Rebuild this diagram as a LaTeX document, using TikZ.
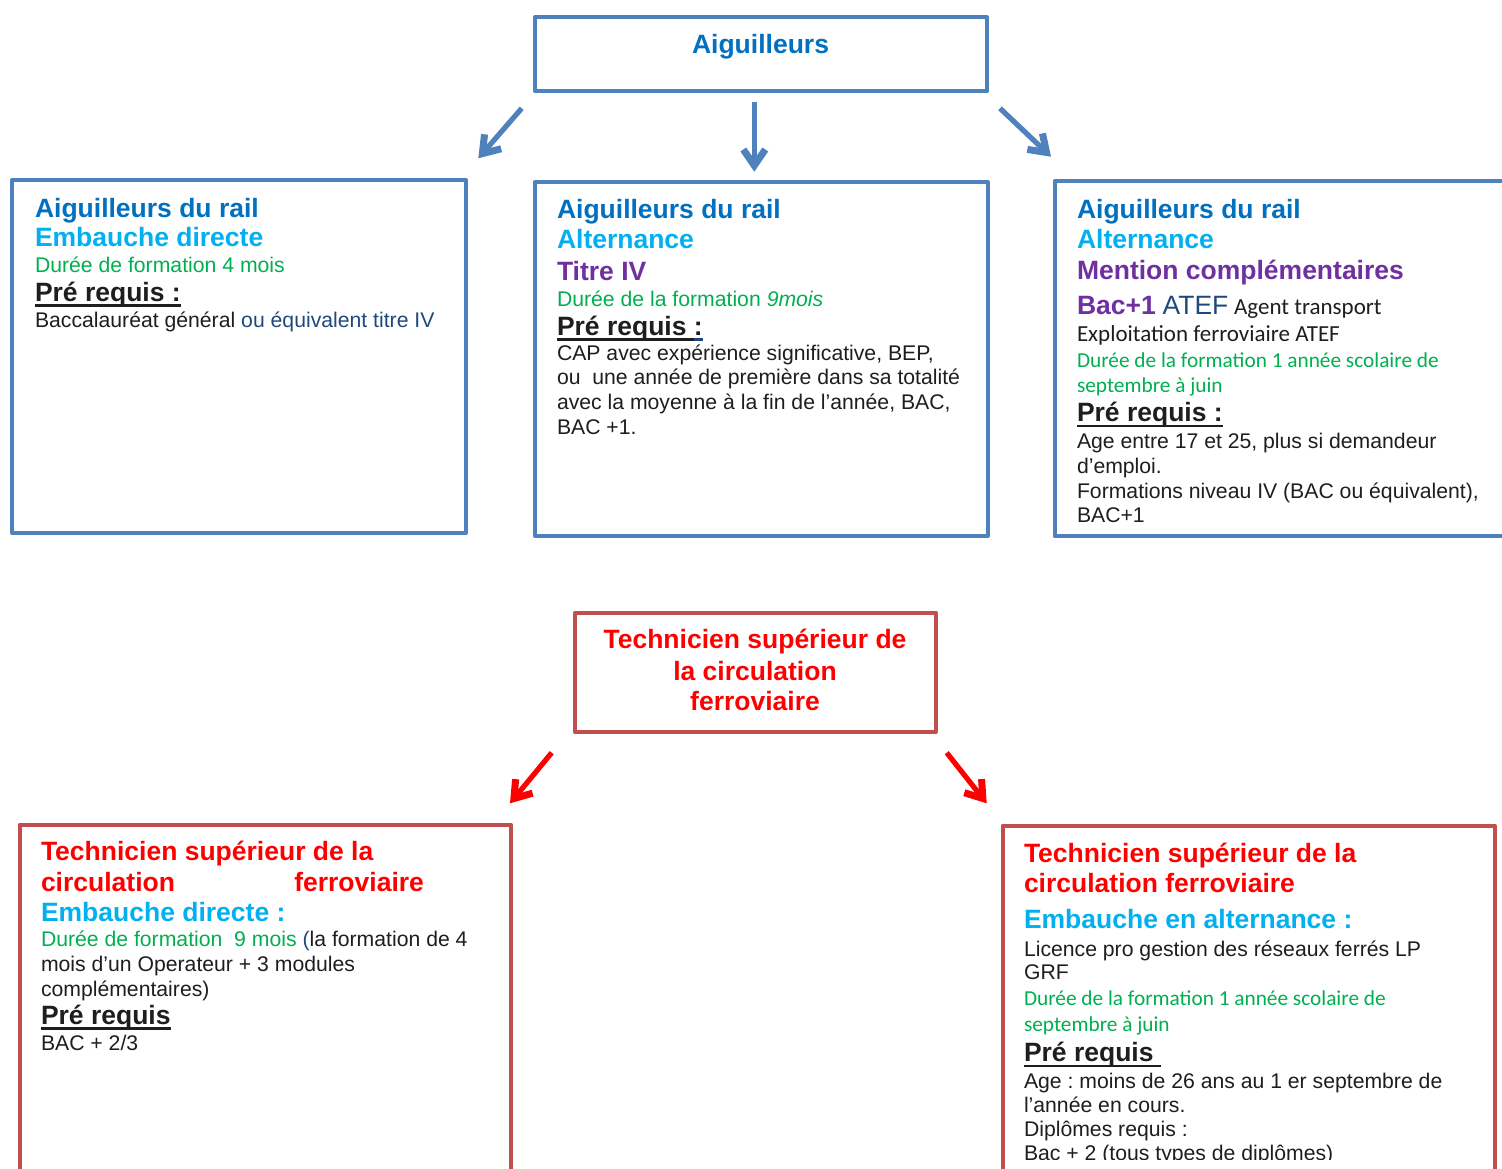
\documentclass[tikz,border=0pt]{standalone}
\usepackage{fontspec}
\setmainfont{Liberation Sans}
\newfontfamily\calfont{Carlito}
\usetikzlibrary{arrows.meta}
\definecolor{boxblue}{HTML}{4F81BD}
\definecolor{boxred}{HTML}{C0504D}
\definecolor{ttlblue}{HTML}{0070C0}
\definecolor{ltblue}{HTML}{00B0F0}
\definecolor{grn}{HTML}{00B050}
\definecolor{purp}{HTML}{7030A0}
\definecolor{dkblue}{HTML}{1F497D}
\definecolor{txt}{HTML}{1E1E1E}
\definecolor{arrred}{HTML}{FF0000}
\newcommand\fT{\fontsize{26.5pt}{30pt}\selectfont\bfseries}
\newcommand\fTr{\fontsize{26.5pt}{30pt}\selectfont}
\newcommand\fB{\fontsize{21.2pt}{24.5pt}\selectfont}
\newcommand\fC{\fontsize{21.3pt}{26pt}\selectfont\calfont}
\newcommand\fCb{\fontsize{23pt}{27pt}\selectfont\calfont}
\newcommand\myul[2][txt]{\setbox0\hbox{#2}\rlap{\color{#1}\rule[-5.6pt]{\wd0}{2.8pt}}\box0}
\frenchspacing
\begin{document}
\begin{tikzpicture}[x=1pt,y=-1pt,
  bbox/.style={draw=boxblue, line width=4pt, rectangle, line join=round, inner sep=0pt, outer sep=0pt},
  rbox/.style={draw=boxred, line width=4pt, rectangle, line join=round, inner sep=0pt, outer sep=0pt},
  ln/.style={anchor=base west, inner sep=0pt, outer sep=0pt, text=txt},
  cn/.style={anchor=base, inner sep=0pt, outer sep=0pt},
  barr/.style={boxblue, line width=5.2pt, -{Straight Barb[length=16pt,width=22pt,line width=0pt 1.35]}},
  rarr/.style={arrred, line width=5.2pt, -{Straight Barb[length=16pt,width=22pt,line width=0pt 1.35]}}]
\useasboundingbox (0,0) rectangle (1502,1168);
\fill[white] (0,0) rectangle (1502,1168);

% boxes
\node[bbox, minimum width=452pt, minimum height=74pt] (top) at (761,54) {};
\node[bbox, minimum width=454pt, minimum height=353pt] (b1) at (239,356.5) {};
\node[bbox, minimum width=452.5pt, minimum height=354pt] (b2) at (761.25,359) {};
\node[bbox, minimum width=465.5pt, minimum height=355pt] (b3) at (1287.25,358.5) {};
\node[rbox, minimum width=360.5pt, minimum height=119.5pt] (rc) at (755.25,672.25) {};
\node[rbox, minimum width=491pt, minimum height=365.5pt] (b4) at (265,1007.25) {};
\node[rbox, minimum width=492pt, minimum height=364.5pt] (b5) at (1248.5,1007.75) {};

% arrows
\coordinate (a1s) at (521.7,108.3); \coordinate (a1e) at (478.3,158.3);
\coordinate (a2s) at (754.3,101.7); \coordinate (a2e) at (754.3,171.7);
\coordinate (a3s) at (1000,108.3); \coordinate (a3e) at (1051,156.7);
\coordinate (r1s) at (551.7,752.7); \coordinate (r1e) at (510,803.3);
\coordinate (r2s) at (946.7,752.7); \coordinate (r2e) at (986.7,803.3);
\draw[barr] (a1s) -- (a1e);
\draw[barr] (a2s) -- (a2e);
\draw[barr] (a3s) -- (a3e);
\draw[rarr] (r1s) -- (r1e);
\draw[rarr] (r2s) -- (r2e);

% top text
\node[cn, text=ttlblue, font=\fT] (ttop) at (760.5,53) {Aiguilleurs};

% box 1
\node[ln, text=ttlblue, font=\fT] (b1a) at (35,217.5) {Aiguilleurs du rail};
\node[ln, text=ltblue, font=\fT] (b1b) at (35,246) {Embauche directe};
\node[ln, text=grn, font=\fB] (b1c) at (35,272) {Durée de formation 4 mois};
\node[ln, font=\fT] (b1d) at (35,301) {\myul{Pré requis :}};
\node[ln, font=\fB] (b1e) at (35,327) {Baccalauréat général {\color{dkblue}ou équivalent titre IV}};

% box 2
\node[ln, text=ttlblue, font=\fT] (b2a) at (557,218) {Aiguilleurs du rail};
\node[ln, text=ltblue, font=\fT] (b2b) at (557,248.5) {Alternance};
\node[ln, text=purp, font=\fT] (b2c) at (557,280) {Titre IV};
\node[ln, text=grn, font=\fB] (b2d) at (557,306) {Durée de la formation \textit{9mois}};
\node[ln, font=\fT] (b2e) at (557,335) {\myul{Pré requis }\myul[dkblue]{:}};
\node[ln, font=\fB] (b2f) at (557,360) {CAP avec expérience significative, BEP,};
\node[ln, font=\fB] (b2g) at (557,384.5) {ou\ \ une année de première dans sa totalité};
\node[ln, font=\fB] (b2h) at (557,409) {avec la moyenne à la fin de l’année, BAC,};
\node[ln, font=\fB] (b2i) at (557,434) {BAC +1.};

% box 3
\node[ln, text=ttlblue, font=\fT] (b3a) at (1077,218.3) {Aiguilleurs du rail};
\node[ln, text=ltblue, font=\fT] (b3b) at (1077,248.3) {Alternance};
\node[ln, text=purp, font=\fT] (b3c) at (1077,279) {Mention complémentaires};
\node[ln] (b3d) at (1077,314.3) {{\fT\color{purp}Bac+1}\hspace{4pt} {\fTr\color{dkblue}ATEF}\hspace{3pt} {\fCb Agent transport}};
\node[ln, font=\fCb] (b3e) at (1077,341.7) {Exploitation ferroviaire ATEF};
\node[ln, text=grn, font=\fC] (b3f) at (1077,367.3) {Durée de la formation 1 année scolaire de};
\node[ln, text=grn, font=\fC] (b3g) at (1077,392.7) {septembre à juin};
\node[ln, font=\fT] (b3h) at (1077,421.7) {\myul{Pré requis :}};
\node[ln, font=\fB] (b3i) at (1077,448.3) {Age entre 17 et 25, plus si demandeur};
\node[ln, font=\fB] (b3j) at (1077,473.3) {d’emploi.};
\node[ln, font=\fB] (b3k) at (1077,498.3) {Formations niveau IV (BAC ou équivalent),};
\node[ln, font=\fB] (b3l) at (1077,522.3) {BAC+1};

% red centre box
\node[cn, text=arrred, font=\fT] (rc1) at (755,648.3) {Technicien supérieur de};
\node[cn, text=arrred, font=\fT] (rc2) at (755,680) {la circulation};
\node[cn, text=arrred, font=\fT] (rc3) at (755,710) {ferroviaire};

% box 4
\node[ln, text=arrred, font=\fT] (b4a) at (41,860) {Technicien supérieur de la};
\node[ln, text=arrred, font=\fT] (b4b) at (41,891) {circulation};
\node[ln, text=arrred, font=\fT] (b4c) at (294.3,891) {ferroviaire};
\node[ln, text=ltblue, font=\fT] (b4d) at (41,921) {Embauche directe :};
\node[ln, font=\fB] (b4e) at (41,946.7) {{\color{grn}Durée de formation\ \ 9 mois} {\color{dkblue}(}la formation de 4};
\node[ln, font=\fB] (b4f) at (41,971.7) {mois d’un Operateur + 3 modules};
\node[ln, font=\fB] (b4g) at (41,996) {complémentaires)};
\node[ln, font=\fT] (b4h) at (41,1024) {\myul{Pré requis}};
\node[ln, font=\fB] (b4i) at (41,1050.7) {BAC + 2/3};

% box 5
\node[ln, text=arrred, font=\fT] (b5a) at (1024,862.3) {Technicien supérieur de la};
\node[ln, text=arrred, font=\fT] (b5b) at (1024,892.3) {circulation ferroviaire};
\node[ln, text=ltblue, font=\fT] (b5c) at (1024,928.3) {Embauche en alternance :};
\node[ln, font=\fB] (b5d) at (1024,956) {Licence pro gestion des réseaux ferrés LP};
\node[ln, font=\fB] (b5e) at (1024,979.3) {GRF};
\node[ln, text=grn, font=\fC] (b5f) at (1024,1005) {Durée de la formation 1 année scolaire de};
\node[ln, text=grn, font=\fC] (b5g) at (1024,1031) {septembre à juin};
\node[ln, font=\fT] (b5h) at (1024,1061.7) {\myul{Pré requis\ }};
\node[ln, font=\fB] (b5i) at (1024,1088.3) {Age : moins de 26 ans au 1 er septembre de};
\node[ln, font=\fB] (b5j) at (1024,1112.3) {l’année en cours.};
\node[ln, font=\fB] (b5k) at (1024,1136.7) {Diplômes requis :};
\begin{scope}
\clip (1010,1140) rectangle (1490,1159.5);
\node[ln, font=\fB] (b5l) at (1024,1160.5) {Bac + 2 (tous types de diplômes)};
\end{scope}
\end{tikzpicture}
\end{document}
